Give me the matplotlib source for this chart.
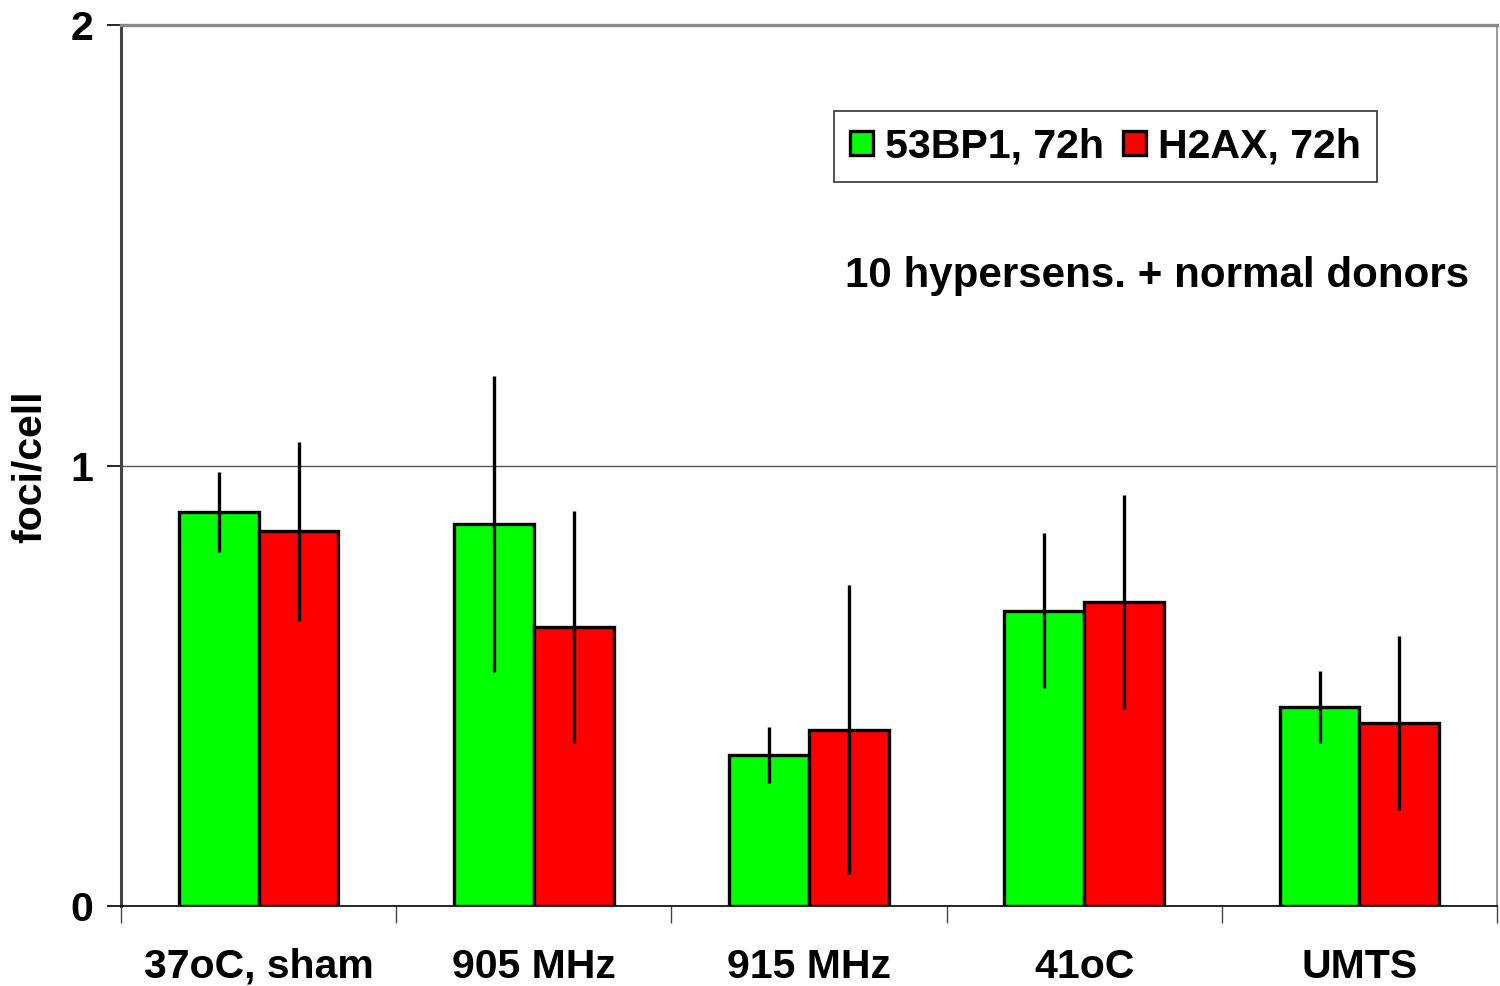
#!/usr/bin/python

# Foci per cell, 72h after exposure, for 53BP1 and H2AX
import numpy as np
import matplotlib
matplotlib.use('Agg')
import matplotlib.pyplot as plt
from matplotlib.ticker import FixedLocator

categories = ['37oC, sham', '905 MHz', '915 MHz', '41oC', 'UMTS']
bp1_mean = [0.894, 0.867, 0.343, 0.670, 0.452]
bp1_err = [0.091, 0.336, 0.063, 0.176, 0.081]
h2ax_mean = [0.851, 0.633, 0.400, 0.690, 0.415]
h2ax_err = [0.203, 0.263, 0.328, 0.242, 0.197]
series_labels = ['53BP1, 72h', 'H2AX, 72h']

plt.rcParams['font.family'] = ['Liberation Sans', 'DejaVu Sans']
plt.rcParams['font.weight'] = 'bold'

FS = 29.5

fig = plt.figure(figsize=(15, 9.86), dpi=100)
ax = fig.add_axes([0.0807, 0.0811, 0.9173, 0.8935])

x = np.arange(len(categories))
w = 0.29
ekw = dict(elinewidth=2.4, ecolor='black', capsize=0)
ax.bar(x - w/2, bp1_mean, w, yerr=bp1_err, color='#00ff00', edgecolor='black',
       linewidth=2.4, label=series_labels[0], error_kw=ekw, zorder=3)
ax.bar(x + w/2, h2ax_mean, w, yerr=h2ax_err, color='#ff0000', edgecolor='black',
       linewidth=2.4, label=series_labels[1], error_kw=ekw, zorder=3)

ax.set_xlim(-0.5, len(categories) - 0.5)
ax.set_ylim(0, 2)
ax.axhline(1, color='#555555', linewidth=1.0, zorder=1)

# labels at the centres, tick marks between the groups
ax.set_xticks(x)
ax.set_xticklabels(categories, fontsize=FS, fontweight='bold')
ax.tick_params(axis='x', which='major', length=0, pad=30)
ax.xaxis.set_minor_locator(FixedLocator(np.arange(-0.5, len(categories) - 0.4, 1.0)))
ax.tick_params(axis='x', which='minor', length=12, width=1.0, color='#444444')

ax.set_yticks([0, 1, 2])
ax.set_yticklabels(['0', '1', '2'], fontsize=FS, fontweight='bold')
ax.tick_params(axis='y', length=10, width=1.2, color='black', pad=10)

fig.text(30/1500, 1 - 467/986, 'foci/cell', fontsize=FS, fontweight='bold',
         rotation=90, ha='center', va='center')

ax.spines['left'].set_color('#444444')
ax.spines['left'].set_linewidth(2.2)
ax.spines['bottom'].set_color('black')
ax.spines['bottom'].set_linewidth(1.2)
ax.spines['top'].set_color('#888888')
ax.spines['top'].set_linewidth(2.4)
ax.spines['right'].set_color('#888888')
ax.spines['right'].set_linewidth(1.2)

leg = ax.legend(loc='upper left', bbox_to_anchor=(834/1500, 1 - 111/986),
                bbox_transform=fig.transFigure, ncol=2,
                prop={'weight': 'bold', 'size': 29.6}, handlelength=0.55,
                handleheight=0.55, handletextpad=0.3, columnspacing=0.45,
                borderpad=0.4, borderaxespad=0, fancybox=False, framealpha=1)
leg.get_frame().set_edgecolor('#333333')
leg.get_frame().set_linewidth(1.2)

fig.text(845/1500, 1 - 276/986, '10 hypersens. + normal donors', fontsize=30.3,
         fontweight='bold', ha='left', va='center')

fig.savefig('out.png', dpi=100)
